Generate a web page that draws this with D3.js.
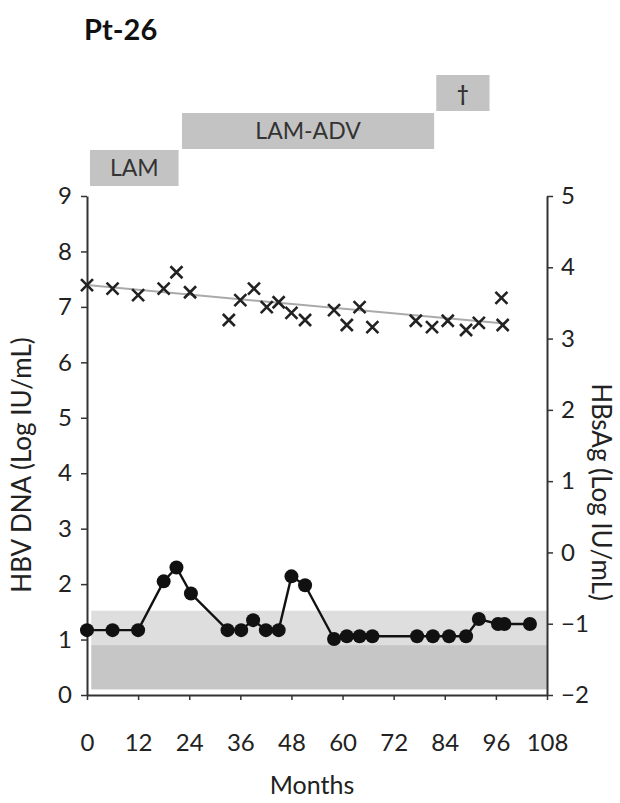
<!DOCTYPE html>
<html>
<head>
<meta charset="utf-8">
<script src="https://d3js.org/d3.v7.min.js"></script>
<style>
  body { margin: 0; background: #fff; }
  text { font-family: Lato, "Open Sans", sans-serif; fill: #222; }
</style>
</head>
<body>
<div id="chart"></div>
<script>
// HBV DNA (left axis) – months, log IU/mL
let dnaMonths = [0, 6, 12, 18, 21, 24.4, 33, 36.2, 39, 42, 45, 48, 51.2, 58, 61, 64, 67, 77.5, 81.2, 85, 89, 92, 96.5, 98, 104];
let dnaValues = [1.17, 1.17, 1.17, 2.05, 2.3, 1.83, 1.17, 1.17, 1.35, 1.17, 1.17, 2.14, 1.98, 1.01, 1.06, 1.06, 1.06, 1.06, 1.06, 1.06, 1.06, 1.37, 1.28, 1.28, 1.28];

// HBsAg (right axis)
let sagMonths = [0, 6, 12, 18, 21, 24.2, 33.3, 36, 39.2, 42.2, 45, 48, 51.2, 58, 61, 64, 67, 77.2, 81, 84.7, 89, 92, 97.3, 97.6];
let sagValues = [3.75, 3.7, 3.61, 3.7, 3.93, 3.65, 3.26, 3.54, 3.7, 3.44, 3.51, 3.36, 3.26, 3.4, 3.19, 3.44, 3.16, 3.25, 3.16, 3.25, 3.12, 3.22, 3.57, 3.19];
let sagTrend = [[0, 3.75], [98, 3.21]];

// therapy bars
let therapies = [
  {label: "LAM", start: 0.7, end: 21.5, row: 0},
  {label: "LAM-ADV", start: 22.3, end: 81.5, row: 1},
  {label: "†", start: 82, end: 94.5, row: 2}
];

// shaded reference bands (left axis units)
let bandLight = [1, 108, 0.9, 1.52];
let bandDark = [1, 108, 0.1, 0.9];

let xTicks = [0, 12, 24, 36, 48, 60, 72, 84, 96, 108];
let leftTicks = [0, 1, 2, 3, 4, 5, 6, 7, 8, 9];
let rightTicks = [-2, -1, 0, 1, 2, 3, 4, 5];

let width = 620, height = 803;
let svg = d3.select("#chart").append("svg")
  .attr("width", width).attr("height", height);

let x = d3.scaleLinear().domain([0, 108]).range([87, 547]);
let yL = d3.scaleLinear().domain([0, 9]).range([695, 196]);
let yR = d3.scaleLinear().domain([-2, 5]).range([695, 196]);

// title
svg.append("text").attr("x", 84).attr("y", 40)
  .style("font-size", "29px").style("font-weight", "bold").style("fill", "#111")
  .text("Pt-26");

// therapy bars
let rowTop = [150, 113, 75];
let bars = svg.append("g").selectAll("g").data(therapies).enter().append("g");
bars.append("rect")
  .attr("x", d => x(d.start))
  .attr("y", d => rowTop[d.row])
  .attr("width", d => x(d.end) - x(d.start))
  .attr("height", 36)
  .attr("fill", "#c3c3c3");
bars.append("text")
  .attr("x", d => (x(d.start) + x(d.end)) / 2)
  .attr("y", d => rowTop[d.row] + 26)
  .attr("text-anchor", "middle")
  .style("font-size", d => d.row == 2 ? "20px" : "23px")
  .style("font-weight", d => d.row == 2 ? "bold" : "normal")
  .style("fill", "#333")
  .text(d => d.label);

// bands
svg.append("rect")
  .attr("x", x(bandLight[0])).attr("width", x(bandLight[1]) - x(bandLight[0]))
  .attr("y", yL(bandLight[3])).attr("height", yL(bandLight[2]) - yL(bandLight[3]))
  .attr("fill", "#dedede");
svg.append("rect")
  .attr("x", x(bandDark[0])).attr("width", x(bandDark[1]) - x(bandDark[0]))
  .attr("y", yL(bandDark[3])).attr("height", yL(bandDark[2]) - yL(bandDark[3]))
  .attr("fill", "#c6c6c6");

// axes
function styleAxis(g) {
  g.select(".domain").attr("stroke", "#333").attr("stroke-width", 2);
  g.selectAll(".tick line").attr("stroke", "#333").attr("stroke-width", 1.5);
  g.selectAll(".tick text").style("font-size", "24px").style("fill", "#222");
}
svg.append("g").attr("transform", "translate(0,695)")
  .call(d3.axisBottom(x).tickValues(xTicks).tickSize(5).tickSizeOuter(0).tickPadding(34))
  .call(styleAxis);
svg.append("g").attr("transform", "translate(87,0)")
  .call(d3.axisLeft(yL).tickValues(leftTicks).tickSize(6).tickSizeOuter(0).tickPadding(9))
  .call(styleAxis);
svg.append("g").attr("transform", "translate(547,0)")
  .call(d3.axisRight(yR).tickValues(rightTicks).tickFormat(d3.format("d")).tickSize(6).tickSizeOuter(0).tickPadding(8))
  .call(styleAxis);

// axis titles
svg.append("text").attr("transform", "translate(31,465) rotate(-90)")
  .attr("text-anchor", "middle").style("font-size", "26px").text("HBV DNA (Log IU/mL)");
svg.append("text").attr("transform", "translate(592,492) rotate(90)")
  .attr("text-anchor", "middle").style("font-size", "26px").text("HBsAg (Log IU/mL)");
svg.append("text").attr("x", 312).attr("y", 794)
  .attr("text-anchor", "middle").style("font-size", "25px").text("Months");

// HBsAg trend line and crosses
svg.append("path").datum(sagTrend)
  .attr("d", d3.line().x(d => x(d[0])).y(d => yR(d[1])))
  .attr("fill", "none").attr("stroke", "#aaa").attr("stroke-width", 2);
let sag = sagMonths.map((m, i) => ({m: m, v: sagValues[i]}));
svg.append("g").selectAll("path").data(sag).enter().append("path")
  .attr("transform", d => "translate(" + x(d.m) + "," + yR(d.v) + ")")
  .attr("d", "M-6,-6L6,6M-6,6L6,-6")
  .attr("stroke", "#222").attr("stroke-width", 2.6).attr("fill", "none");

// HBV DNA line and dots
let dna = dnaMonths.map((m, i) => ({m: m, v: dnaValues[i]}));
svg.append("path").datum(dna)
  .attr("d", d3.line().x(d => x(d.m)).y(d => yL(d.v)))
  .attr("fill", "none").attr("stroke", "#111").attr("stroke-width", 2.4);
svg.append("g").selectAll("circle").data(dna).enter().append("circle")
  .attr("cx", d => x(d.m)).attr("cy", d => yL(d.v)).attr("r", 7)
  .attr("fill", "#111");
</script>
</body>
</html>
